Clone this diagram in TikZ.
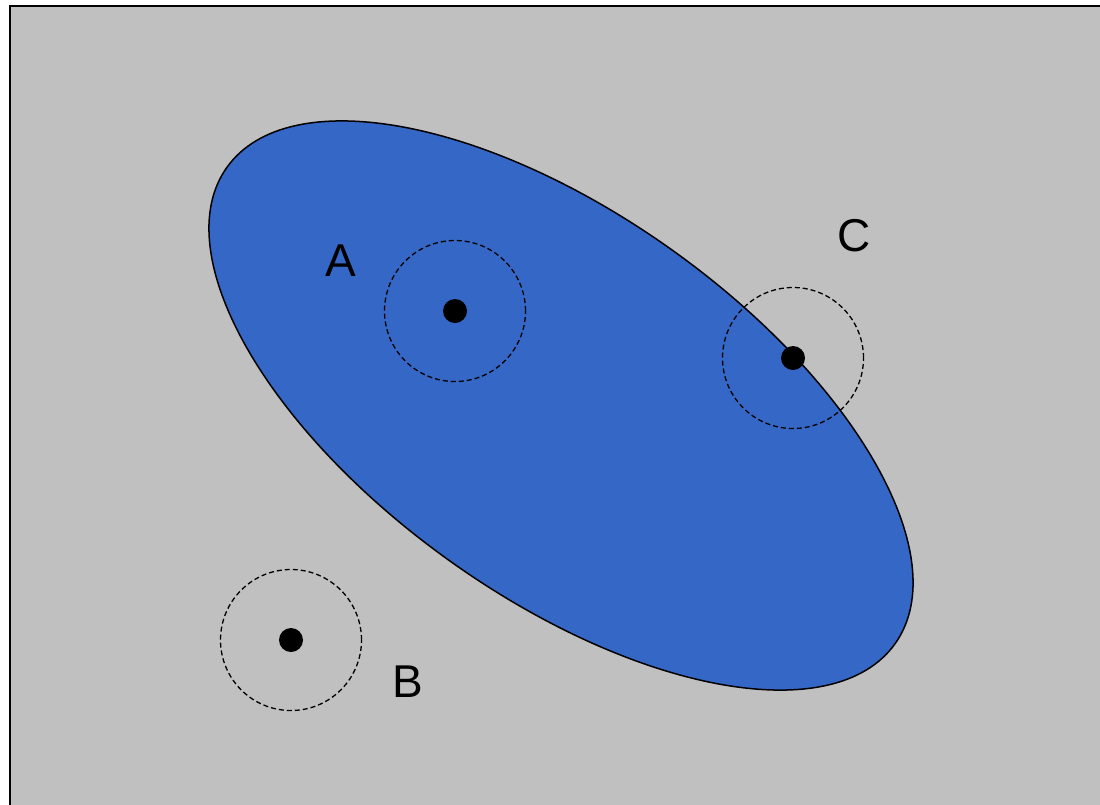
\documentclass[tikz,border=0pt]{standalone}
\usepackage{fontspec}
\setmainfont{Liberation Sans}
\definecolor{bg}{HTML}{C0C0C0}
\definecolor{blob}{HTML}{3567C6}
\begin{document}
\begin{tikzpicture}[x=1pt,y=-1pt,
  zone/.style={draw=black,dash pattern=on 5pt off 3pt,line width=1.3pt,circle,minimum size=141pt,inner sep=0pt},
  pt/.style={fill=black,circle,minimum size=24pt,inner sep=0pt},
  lbl/.style={inner sep=0pt,font=\fontsize{46}{46}\selectfont}]
\useasboundingbox (0,0) rectangle (1100,804);
\fill[bg] (9.5,5.5) rectangle (1120,820);
\draw[line width=2pt] (9.5,820) -- (9.5,5.5) -- (1120,5.5);
\fill[blob,draw=black,line width=1.5pt] (561,405.5) ellipse[x radius=410.3pt,y radius=191.1pt,rotate=-35.5];
\node[zone] (za) at (455,311) {};
\node[zone] (zc) at (793,358) {};
\node[zone] (zb) at (291,640) {};
\node[pt] (pa) at (455,311) {};
\node[pt] (pc) at (793,358) {};
\node[pt] (pb) at (291,640) {};
\node[lbl] (la) at (341,261) {A};
\node[lbl] (lb) at (408,682) {B};
\node[lbl] (lc) at (854,236) {C};
\end{tikzpicture}
\end{document}
